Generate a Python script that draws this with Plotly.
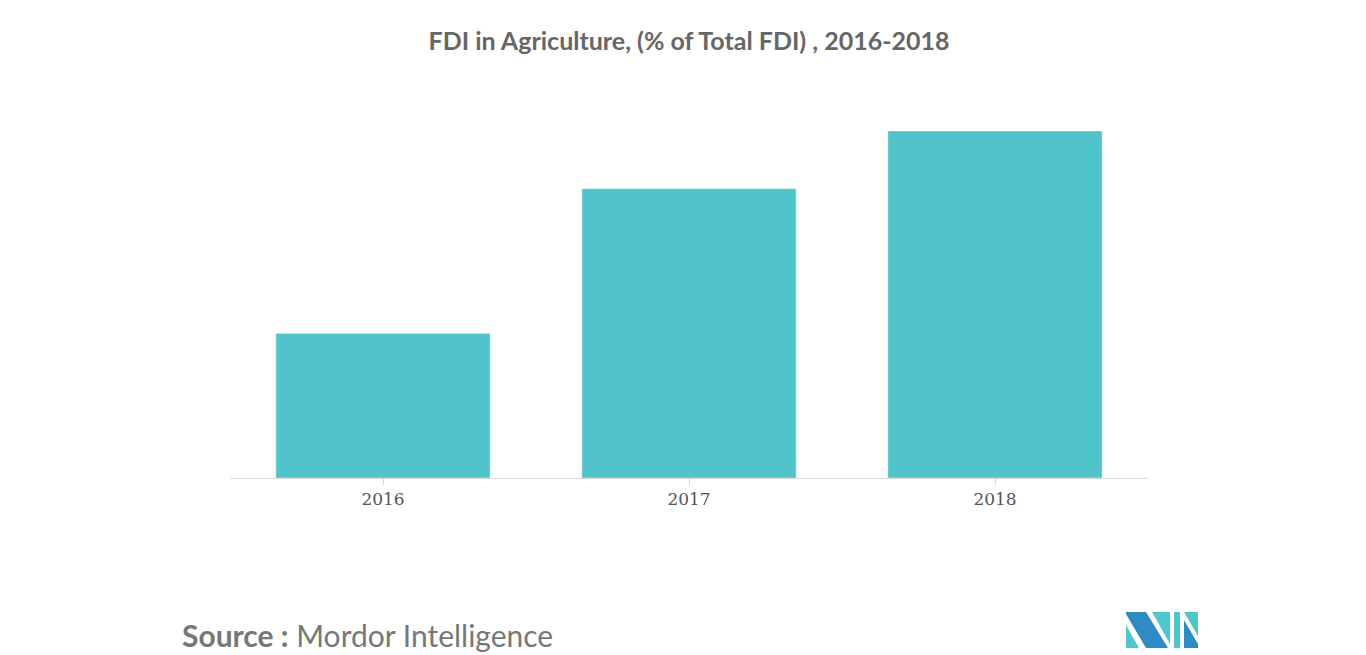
import plotly.graph_objects as go

years = ["2016", "2017", "2018"]
fdi_share = [0.50, 1.00, 1.20]

L, R, T, B = 222, 1366 - 1140, 123, 655 - 470
W, H = 1366, 655


def px(x, y):
    # pixel -> paper coords
    return (x - L) / (W - L - R), (H - B - y) / (H - T - B)


def path(pts):
    s = ""
    for i, (x, y) in enumerate(pts):
        a, b = px(x, y)
        s += ("M" if i == 0 else "L") + f"{a:.4f},{b:.4f} "
    return s + "Z"


fig = go.Figure(go.Bar(x=years, y=fdi_share, marker_color="#50c4ca", width=0.7))

logo = [
    ([(1118, 617), (1118, 640), (1131, 640)], "#4fc5cc"),
    ([(1118, 604), (1138, 604), (1160, 640), (1138, 640), (1118, 606)], "#2e8bc3"),
    ([(1144, 604), (1162, 604), (1162, 636)], "#4fc5cc"),
    ([(1166, 604), (1172, 604), (1172, 640), (1166, 640)], "#4fc5cc"),
    ([(1176, 604), (1190, 604), (1190, 628)], "#4fc5cc"),
    ([(1176, 612), (1190, 636), (1190, 640), (1176, 640)], "#2e8bc3"),
]
for pts, c in logo:
    fig.add_shape(type="path", xref="paper", yref="paper", path=path(pts),
                  fillcolor=c, line_width=0)

fig.update_layout(
    width=W, height=H,
    margin=dict(l=L, r=R, t=T, b=B),
    plot_bgcolor="white", paper_bgcolor="white",
    bargap=0.3, showlegend=False,
    title=dict(text="<b>FDI in Agriculture, (% of Total FDI) , 2016-2018</b>",
               x=0.5, xref="paper", y=0.95, yanchor="middle",
               font=dict(family="Lato", size=25, color="#666666")),
    xaxis=dict(showline=True, linecolor="#d9d9d9", ticks="outside", tickcolor="#d9d9d9",
               ticklen=6, tickfont=dict(family="DejaVu Serif", size=17, color="#555555"),
               range=[-0.5, 2.5]),
    yaxis=dict(visible=False, range=[0, 1.2]),
)
fig.add_annotation(text="<b>Source :</b> Mordor Intelligence", xref="paper", yref="paper",
                   x=px(172, 0)[0], y=px(0, 627)[1], xanchor="left", yanchor="middle",
                   showarrow=False, font=dict(family="Lato", size=30, color="#777777"))

fig.write_html("out.html")
